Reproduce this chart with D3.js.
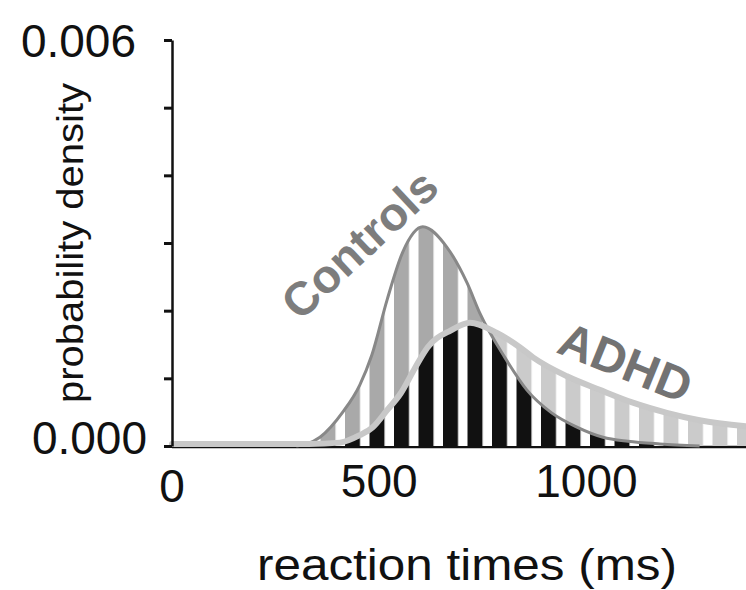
<!DOCTYPE html>
<html>
<head>
<meta charset="utf-8">
<script src="https://cdn.jsdelivr.net/npm/d3@7"></script>
<style>
  body { margin: 0; background: #fff; }
  text { font-family: "Liberation Sans", Arial, Helvetica, sans-serif; }
</style>
</head>
<body>
<div id="chart"></div>
<script>
// reaction time samples (ms) and densities
var controlsRT      = [300, 321, 357, 412, 453, 482, 519, 557, 605, 663, 712, 743, 803, 856, 916, 977, 1040, 1100, 1177, 1273];
var controlsDensity = [0, 0.00002, 0.00013, 0.0005, 0.0009, 0.00134, 0.00216, 0.00287, 0.00324, 0.00294, 0.00241, 0.00196, 0.00131, 0.00083, 0.00049, 0.00028, 0.00013, 0.00007, 0.00003, 0];

var adhdRT      = [0, 200, 330, 405, 453, 485, 519, 552, 586, 617, 673, 719, 784, 839, 871, 953, 1032, 1112, 1194, 1273, 1385];
var adhdDensity = [0.00003, 0.00003, 0.00003, 0.00005, 0.00016, 0.00028, 0.00053, 0.00078, 0.00115, 0.00146, 0.00171, 0.00182, 0.00167, 0.00146, 0.00131, 0.00103, 0.00083, 0.00064, 0.00049, 0.00038, 0.00029];

var xTicks = [0, 500, 1000];
var yTicks = [0, 0.001, 0.002, 0.003, 0.004, 0.005, 0.006];
var yTickLabels = [0.006, 0];

var width = 746, height = 590;
var svg = d3.select("#chart").append("svg")
  .attr("width", width)
  .attr("height", height);

var x = d3.scaleLinear().domain([0, 1385]).range([172, 746]);
var y = d3.scaleLinear().domain([0, 0.006]).range([446, 40]);

var controls = controlsRT.map(function (t, i) { return {t: t, d: controlsDensity[i]}; });
var adhd = adhdRT.map(function (t, i) { return {t: t, d: adhdDensity[i]}; });

var area = d3.area()
  .x(function (d) { return x(d.t); })
  .y0(y(0))
  .y1(function (d) { return y(d.d); })
  .curve(d3.curveMonotoneX);
var line = d3.line()
  .x(function (d) { return x(d.t); })
  .y(function (d) { return y(d.d); })
  .curve(d3.curveMonotoneX);

// striped fills
var defs = svg.append("defs");
function stripes(id, color) {
  var p = defs.append("pattern")
    .attr("id", id)
    .attr("patternUnits", "userSpaceOnUse")
    .attr("x", 394).attr("y", 0)
    .attr("width", 24.5).attr("height", 10);
  p.append("rect").attr("width", 15).attr("height", 10).attr("fill", color);
}
stripes("stripeControls", "#a9a9a9");
stripes("stripeAdhd", "#cbcbcb");
stripes("stripeBoth", "#111");

defs.append("clipPath").attr("id", "clipControls").append("path").attr("d", area(controls));
defs.append("clipPath").attr("id", "clipAdhd").append("path").attr("d", area(adhd));

// x baseline
svg.append("line")
  .attr("x1", x(0)).attr("x2", x(1385))
  .attr("y1", y(0) + 1).attr("y2", y(0) + 1)
  .attr("stroke", "#111").attr("stroke-width", 2.5);

var plot = svg.append("g");
function fillRect(g, fill, clip) {
  g.append("rect")
    .attr("x", x(0)).attr("y", y(0.006))
    .attr("width", x(1385) - x(0)).attr("height", y(0) - y(0.006))
    .attr("fill", fill)
    .attr("clip-path", "url(#" + clip + ")");
}
fillRect(plot, "url(#stripeAdhd)", "clipAdhd");
fillRect(plot, "url(#stripeControls)", "clipControls");
var both = plot.append("g").attr("clip-path", "url(#clipAdhd)");
fillRect(both, "#fff", "clipControls");
fillRect(both, "url(#stripeBoth)", "clipControls");

// outlines
svg.append("path")
  .attr("d", line(controls))
  .attr("fill", "none")
  .attr("stroke", "#888")
  .attr("stroke-width", 3);
svg.append("path")
  .attr("d", line(adhd))
  .attr("fill", "none")
  .attr("stroke", "#c8c8c8")
  .attr("stroke-width", 6)
  .attr("stroke-linecap", "round");

// y axis
var yAxis = svg.append("g")
  .attr("transform", "translate(" + x(0) + ",0)")
  .call(d3.axisLeft(y).tickValues(yTicks).tickSize(8).tickSizeOuter(0).tickFormat(""));
yAxis.select(".domain").attr("stroke", "#111").attr("stroke-width", 2.5);
yAxis.selectAll(".tick line").attr("stroke", "#111").attr("stroke-width", 3);

// tick labels
svg.selectAll(".xlab")
  .data(xTicks)
  .enter().append("text")
  .attr("class", "xlab")
  .attr("x", function (d) { return x(d); })
  .attr("y", function (d) { return d === 0 ? 502 : 497; })
  .attr("text-anchor", "middle")
  .attr("font-size", 46)
  .attr("fill", "#111")
  .text(function (d) { return d; });

svg.selectAll(".ylab")
  .data(yTickLabels)
  .enter().append("text")
  .attr("class", "ylab")
  .attr("x", function (d) { return d === 0 ? 147 : 136; })
  .attr("y", function (d) { return y(d) + (d === 0 ? 8 : 17); })
  .attr("text-anchor", "end")
  .attr("font-size", 46)
  .attr("fill", "#111")
  .text(function (d) { return d3.format(".3f")(d); });

// axis titles
svg.append("text")
  .attr("x", 467).attr("y", 580)
  .attr("text-anchor", "middle")
  .attr("font-size", 44)
  .attr("textLength", 420)
  .attr("lengthAdjust", "spacingAndGlyphs")
  .attr("fill", "#111")
  .text("reaction times (ms)");

svg.append("text")
  .attr("transform", "translate(83,243) rotate(-90)")
  .attr("text-anchor", "middle")
  .attr("font-size", 36)
  .attr("textLength", 320)
  .attr("lengthAdjust", "spacingAndGlyphs")
  .attr("fill", "#111")
  .text("probability density");

// series labels
svg.append("text")
  .attr("transform", "translate(300,322) rotate(-43)")
  .attr("font-size", 47)
  .attr("font-weight", "bold")
  .attr("fill", "#7d7d7d")
  .text("Controls");

svg.append("text")
  .attr("transform", "translate(555,352) rotate(22)")
  .attr("font-size", 48)
  .attr("font-weight", "bold")
  .attr("fill", "#737373")
  .text("ADHD");
</script>
</body>
</html>
